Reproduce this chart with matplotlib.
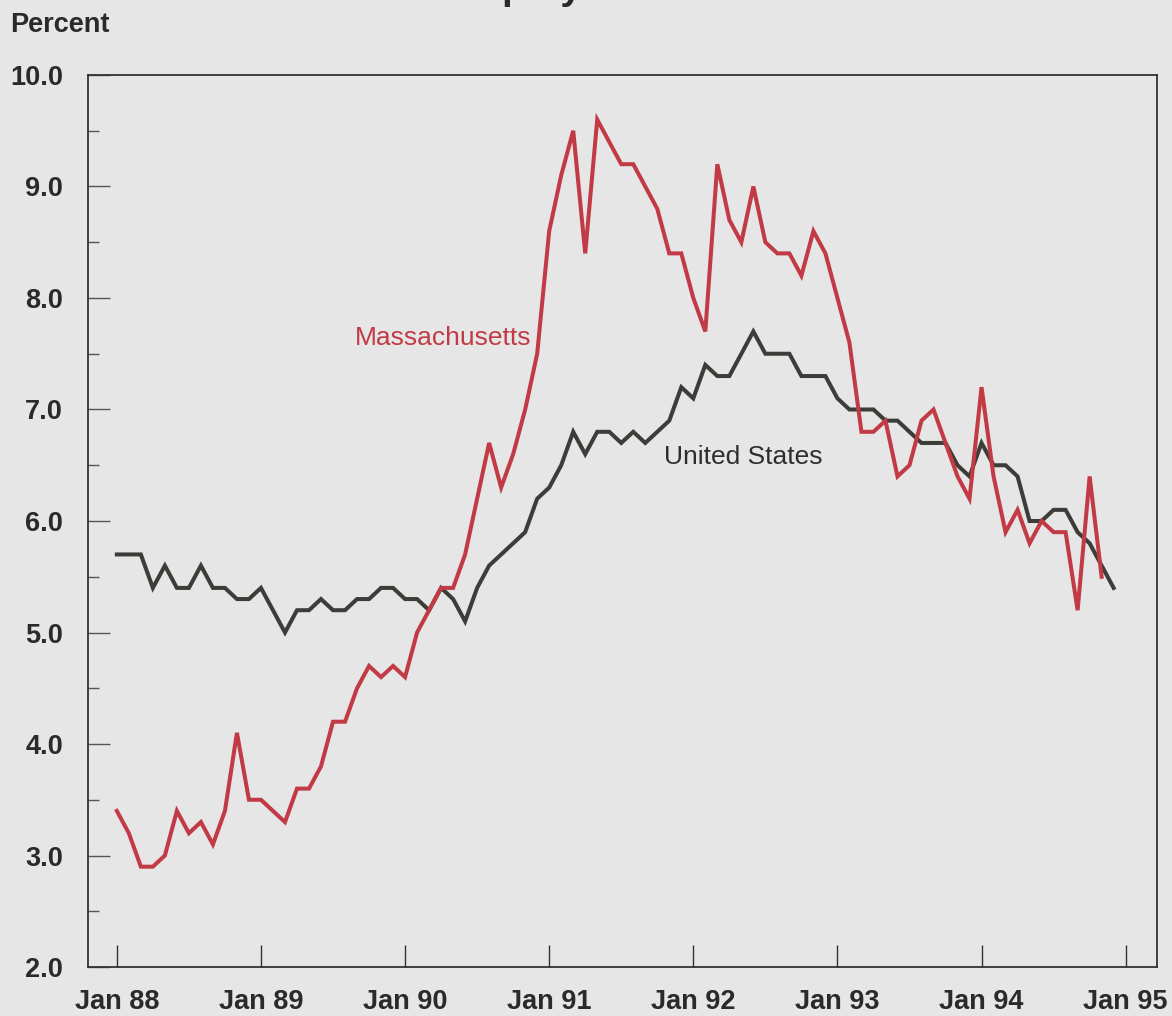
import numpy as np
import matplotlib
matplotlib.use('Agg')
import matplotlib.pyplot as plt
from matplotlib.ticker import FixedLocator

# Monthly unemployment rates, Jan 88 .. Dec 94 (percent)
us_rate = [
    5.7, 5.7, 5.7, 5.4, 5.6, 5.4, 5.4, 5.6, 5.4, 5.4, 5.3, 5.3,   # 1988
    5.4, 5.2, 5.0, 5.2, 5.2, 5.3, 5.2, 5.2, 5.3, 5.3, 5.4, 5.4,   # 1989
    5.3, 5.3, 5.2, 5.4, 5.3, 5.1, 5.4, 5.6, 5.7, 5.8, 5.9, 6.2,   # 1990
    6.3, 6.5, 6.8, 6.6, 6.8, 6.8, 6.7, 6.8, 6.7, 6.8, 6.9, 7.2,   # 1991
    7.1, 7.4, 7.3, 7.3, 7.5, 7.7, 7.5, 7.5, 7.5, 7.3, 7.3, 7.3,   # 1992
    7.1, 7.0, 7.0, 7.0, 6.9, 6.9, 6.8, 6.7, 6.7, 6.7, 6.5, 6.4,   # 1993
    6.7, 6.5, 6.5, 6.4, 6.0, 6.0, 6.1, 6.1, 5.9, 5.8, 5.6, 5.4,   # 1994
]
ma_rate = [
    3.4, 3.2, 2.9, 2.9, 3.0, 3.4, 3.2, 3.3, 3.1, 3.4, 4.1, 3.5,   # 1988
    3.5, 3.4, 3.3, 3.6, 3.6, 3.8, 4.2, 4.2, 4.5, 4.7, 4.6, 4.7,   # 1989
    4.6, 5.0, 5.2, 5.4, 5.4, 5.7, 6.2, 6.7, 6.3, 6.6, 7.0, 7.5,   # 1990
    8.6, 9.1, 9.5, 8.4, 9.6, 9.4, 9.2, 9.2, 9.0, 8.8, 8.4, 8.4,   # 1991
    8.0, 7.7, 9.2, 8.7, 8.5, 9.0, 8.5, 8.4, 8.4, 8.2, 8.6, 8.4,   # 1992
    8.0, 7.6, 6.8, 6.8, 6.9, 6.4, 6.5, 6.9, 7.0, 6.7, 6.4, 6.2,   # 1993
    7.2, 6.4, 5.9, 6.1, 5.8, 6.0, 5.9, 5.9, 5.2, 6.4, 5.5,        # 1994 (to Nov)
]
year_labels = ["Jan 88", "Jan 89", "Jan 90", "Jan 91", "Jan 92", "Jan 93", "Jan 94", "Jan 95"]
y_major = [2, 3, 4, 5, 6, 7, 8, 9, 10]
y_minor = [2.5, 3.5, 4.5, 5.5, 6.5, 7.5, 8.5, 9.5]

bg = "#e6e6e6"
red = "#c23a45"
dark = "#3c3c38"
font = "Liberation Sans"

fig = plt.figure(figsize=(11.72, 10.16), dpi=100, facecolor=bg)
ax = fig.add_axes([0.0751, 0.0482, 0.912, 0.878], facecolor=bg)

months_us = np.arange(len(us_rate))
months_ma = np.arange(len(ma_rate))
ax.plot(months_us, us_rate, color=dark, lw=2.9, solid_joinstyle="miter", zorder=3)
ax.plot(months_ma, ma_rate, color=red, lw=2.9, solid_joinstyle="miter", zorder=4)

ax.set_xlim(-2.4, 86.6)
ax.set_ylim(2, 10)

ax.xaxis.set_major_locator(FixedLocator(np.arange(0, 12 * len(year_labels), 12)))
ax.set_xticklabels(year_labels, fontsize=19.5, fontweight="bold", family=font, color="#2a2a2a")
ax.set_yticks(y_major)
ax.set_yticklabels([f"{v:.1f}" for v in y_major], fontsize=19.5, fontweight="bold",
                   family=font, color="#2a2a2a")
ax.yaxis.set_minor_locator(FixedLocator(y_minor))

ax.tick_params(axis="x", which="major", direction="in", length=16, width=1.0,
               color="#333333", pad=16)
ax.tick_params(axis="y", which="major", direction="in", length=16, width=1.0,
               color="#555555", pad=18)
ax.tick_params(axis="y", which="minor", direction="in", length=8, width=1.0,
               color="#555555")

for s in ax.spines.values():
    s.set_color("#333333")
    s.set_linewidth(1.3)

ax.text(19.8, 7.64, "Massachusetts", color=red, fontsize=19, family=font,
        va="center", ha="left")
ax.text(45.6, 6.57, "United States", color="#2e2e2e", fontsize=19, family=font,
        va="center", ha="left")

fig.text(10 / 1172, 1 - 25 / 1016, "Percent", fontsize=19.5, fontweight="bold",
         family=font, color="#2a2a2a", va="center", ha="left")
# title sits mostly above the cropped page, only descenders show
fig.text(394 / 1172, 1.001, "Unemployment Rates", fontsize=28, fontweight="bold",
         family=font, color="#2a2a2a", va="baseline", ha="left")

fig.savefig("out.png", dpi=100, facecolor=bg)
